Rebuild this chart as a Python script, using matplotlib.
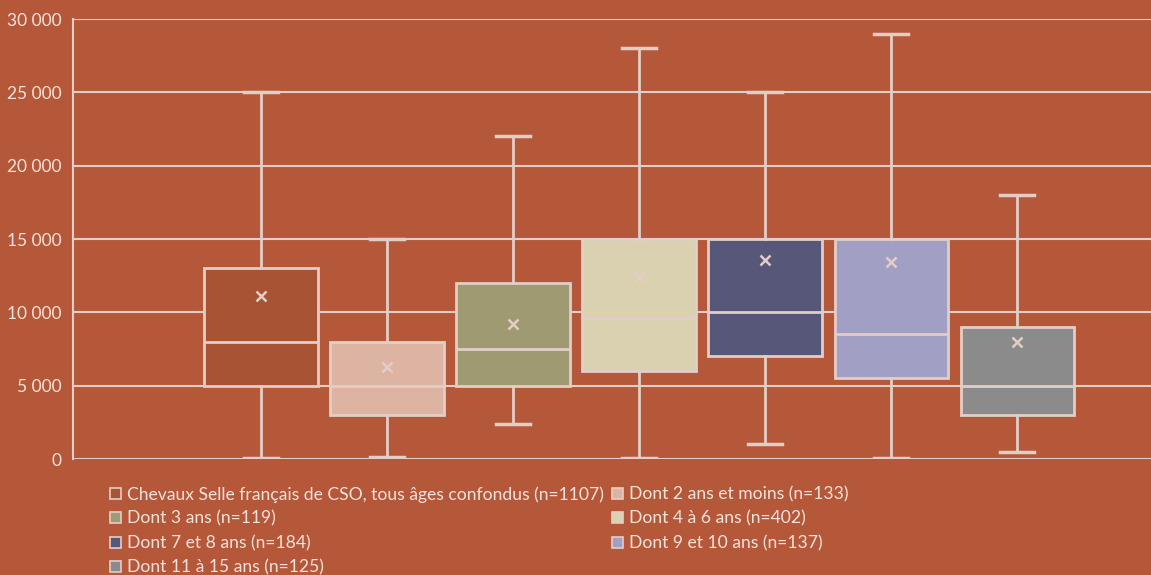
import matplotlib.pyplot as plt
from matplotlib.patches import Patch
from matplotlib.ticker import FuncFormatter

# Données (prix en euros)
labels = [
    "Chevaux Selle français de CSO, tous âges confondus (n=1107)",
    "Dont 2 ans et moins (n=133)",
    "Dont 3 ans (n=119)",
    "Dont 4 à 6 ans (n=402)",
    "Dont 7 et 8 ans (n=184)",
    "Dont 9 et 10 ans (n=137)",
    "Dont 11 à 15 ans (n=125)",
]
whislo = [100, 150, 2400, 100, 1000, 100, 500]
q1 = [5000, 3000, 5000, 6000, 7000, 5500, 3000]
med = [8000, 5000, 7500, 9600, 10000, 8500, 5000]
q3 = [13000, 8000, 12000, 15000, 15000, 15000, 9000]
whishi = [25000, 15000, 22000, 28000, 25000, 29000, 18000]
means = [11100, 6300, 9200, 12400, 13600, 13400, 8000]
colors = ['#A85334', '#DDB3A2', '#A09A72', '#D9D1B0', '#57577A', '#A29FC5', '#8B8B8B']

bg = '#B5583A'
line_col = '#E2CEC6'
text_col = '#F3E2DA'

plt.rcParams['font.family'] = ['Lato', 'DejaVu Sans']

fig = plt.figure(figsize=(11.51, 5.75), dpi=100, facecolor=bg)
ax = fig.add_axes([73 / 1151, 116 / 575, 1 - 73 / 1151, 440 / 575])
ax.set_facecolor(bg)

stats = []
for i in range(len(labels)):
    stats.append({'whislo': whislo[i], 'q1': q1[i], 'med': med[i], 'q3': q3[i],
                  'whishi': whishi[i], 'mean': means[i], 'fliers': []})

positions = list(range(1, len(labels) + 1))
bp = ax.bxp(stats, positions=positions, widths=0.9, patch_artist=True, showmeans=True,
            boxprops=dict(edgecolor=line_col, linewidth=2),
            medianprops=dict(color=line_col, linewidth=2),
            whiskerprops=dict(color=line_col, linewidth=2),
            capprops=dict(color=line_col, linewidth=2.5),
            meanprops=dict(marker='x', markeredgecolor=line_col, markersize=7, markeredgewidth=1.8),
            capwidths=0.27, zorder=3)
for box, c in zip(bp['boxes'], colors):
    box.set_facecolor(c)

ax.set_xlim(-0.49, 8.06)
ax.set_ylim(0, 30000)
ax.set_yticks(range(0, 30001, 5000))
ax.yaxis.set_major_formatter(FuncFormatter(lambda v, p: f"{int(v):,}".replace(",", " ")))
ax.set_xticks([])
ax.grid(axis='y', color=line_col, linewidth=1.5, zorder=0)
ax.set_axisbelow(True)
for s in ['top', 'right', 'bottom']:
    ax.spines[s].set_visible(False)
ax.spines['left'].set_color(line_col)
ax.spines['left'].set_linewidth(1.5)
ax.tick_params(axis='y', length=0, labelsize=12.5, labelcolor=text_col, pad=8)

# légende en lignes (ordre ligne par ligne)
handles = [Patch(facecolor=c, edgecolor=line_col, linewidth=1.2) for c in colors]
order = [0, 2, 4, 6, 1, 3, 5]
leg = fig.legend([handles[i] for i in order], [labels[i] for i in order],
                 loc='upper left', bbox_to_anchor=(103 / 1151, 1 - 479 / 575), ncol=2,
                 frameon=False, fontsize=12.6, labelcolor=text_col,
                 handlelength=0.6, handleheight=0.6, handletextpad=0.35,
                 columnspacing=0.5, labelspacing=0.47, borderaxespad=0)

fig.savefig('out.png', dpi=100, facecolor=bg)
